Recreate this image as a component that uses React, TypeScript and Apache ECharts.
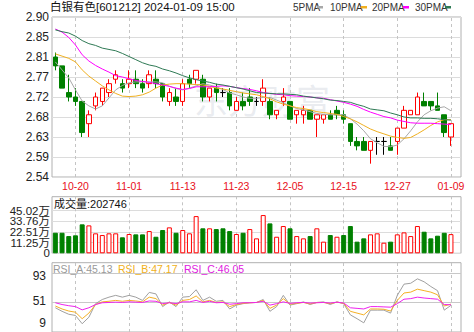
import React, { useEffect, useRef } from 'react';
import * as echarts from 'echarts';

const dates = [
  '10-17','10-18','10-19','10-20','10-23','10-24','10-25','10-26','10-27','10-30',
  '10-31','11-01','11-02','11-03','11-06','11-07','11-08','11-09','11-10','11-13',
  '11-14','11-15','11-16','11-17','11-20','11-21','11-22','11-23','11-24','11-27',
  '11-28','11-29','11-30','12-01','12-04','12-05','12-06','12-07','12-08','12-11',
  '12-12','12-13','12-14','12-15','12-18','12-19','12-20','12-21','12-22','12-25',
  '12-26','12-27','12-28','12-29','01-02','01-03','01-04','01-05','01-08','01-09'
];
const dateLabels = ['10-20','11-01','11-13','11-23','12-05','12-15','12-27','01-09'];

// [open, close, low, high]
const candles = [
  [2.81,2.79,2.78,2.82],[2.79,2.74,2.74,2.79],[2.73,2.72,2.71,2.77],[2.72,2.71,2.70,2.74],[2.71,2.64,2.63,2.71],
  [2.66,2.68,2.63,2.69],[2.70,2.72,2.69,2.73],[2.71,2.74,2.70,2.74],[2.73,2.75,2.72,2.76],[2.76,2.77,2.75,2.78],
  [2.75,2.74,2.73,2.76],[2.75,2.76,2.74,2.78],[2.76,2.75,2.74,2.78],[2.75,2.74,2.73,2.76],[2.75,2.77,2.74,2.78],
  [2.76,2.75,2.74,2.78],[2.75,2.72,2.71,2.75],[2.71,2.73,2.70,2.74],[2.72,2.71,2.70,2.74],[2.71,2.75,2.70,2.76],
  [2.76,2.75,2.74,2.77],[2.76,2.78,2.75,2.78],[2.76,2.72,2.71,2.77],[2.72,2.74,2.71,2.74],[2.74,2.73,2.71,2.75],
  [2.73,2.73,2.72,2.74],[2.73,2.70,2.69,2.74],[2.69,2.71,2.69,2.72],[2.71,2.70,2.69,2.73],[2.72,2.71,2.70,2.74],
  [2.71,2.71,2.70,2.72],[2.71,2.74,2.70,2.76],[2.71,2.68,2.67,2.72],[2.68,2.69,2.67,2.69],[2.71,2.72,2.70,2.74],
  [2.71,2.67,2.67,2.71],[2.68,2.69,2.66,2.69],[2.68,2.69,2.66,2.70],[2.69,2.67,2.67,2.69],[2.67,2.68,2.63,2.68],
  [2.67,2.68,2.66,2.68],[2.68,2.67,2.67,2.69],[2.69,2.68,2.67,2.70],[2.68,2.67,2.66,2.69],[2.66,2.62,2.61,2.66],
  [2.62,2.61,2.60,2.63],[2.62,2.60,2.60,2.63],[2.60,2.62,2.57,2.62],[2.62,2.62,2.59,2.63],[2.62,2.62,2.59,2.63],
  [2.61,2.60,2.60,2.63],[2.62,2.65,2.59,2.65],[2.65,2.69,2.65,2.70],[2.68,2.69,2.68,2.69],[2.68,2.72,2.68,2.73],
  [2.71,2.70,2.70,2.73],[2.71,2.70,2.69,2.71],[2.70,2.69,2.69,2.73],[2.68,2.64,2.63,2.68],[2.63,2.66,2.61,2.66]
];

const ma5 = [
  2.799,2.781,2.763,2.736,2.711,2.700,2.693,2.700,2.718,2.736,
  2.746,2.752,2.754,2.754,2.754,2.754,2.752,2.744,2.739,2.736,
  2.740,2.745,2.750,2.747,2.743,2.737,2.729,2.725,2.720,2.717,
  2.717,2.719,2.719,2.713,2.707,2.700,2.694,2.691,2.687,2.683,
  2.681,2.680,2.680,2.680,2.671,2.659,2.644,2.626,2.617,2.609,
  2.608,2.612,2.626,2.644,2.664,2.680,2.689,2.695,2.698,2.689
];
const ma10 = [
  2.817,2.812,2.807,2.799,2.781,2.767,2.756,2.745,2.736,2.728,
  2.722,2.721,2.722,2.725,2.731,2.740,2.747,2.749,2.750,2.750,
  2.749,2.748,2.747,2.744,2.740,2.738,2.735,2.732,2.729,2.727,
  2.725,2.721,2.716,2.709,2.704,2.700,2.696,2.694,2.691,2.687,
  2.685,2.683,2.681,2.676,2.671,2.664,2.656,2.648,2.642,2.637,
  2.632,2.629,2.627,2.629,2.637,2.646,2.656,2.664,2.669,2.669
];
const ma20 = [
  2.873,2.866,2.854,2.837,2.815,2.801,2.791,2.783,2.776,2.768,
  2.765,2.761,2.757,2.755,2.753,2.750,2.747,2.744,2.740,2.737,
  2.739,2.743,2.743,2.743,2.744,2.745,2.744,2.741,2.739,2.737,
  2.734,2.730,2.728,2.726,2.725,2.723,2.722,2.721,2.720,2.718,
  2.717,2.714,2.711,2.708,2.704,2.699,2.692,2.686,2.681,2.676,
  2.673,2.668,2.665,2.662,2.661,2.661,2.661,2.660,2.659,2.658
];
const ma30 = [
  2.871,2.867,2.864,2.857,2.847,2.840,2.836,2.830,2.827,2.824,
  2.818,2.811,2.804,2.797,2.792,2.789,2.783,2.779,2.774,2.768,
  2.763,2.759,2.756,2.753,2.749,2.747,2.744,2.741,2.738,2.734,
  2.730,2.729,2.728,2.727,2.727,2.726,2.725,2.722,2.720,2.718,
  2.716,2.713,2.712,2.710,2.708,2.703,2.699,2.693,2.691,2.689,
  2.684,2.680,2.675,2.673,2.673,2.672,2.672,2.671,2.669,2.668
];

const volumes = [
  217000,217000,182000,190000,306000,295000,211000,193000,211000,211000,
  169000,204000,200000,200000,235000,175000,246000,274000,217000,246000,
  211000,393000,264000,264000,256000,264000,235000,204000,217000,256000,
  158000,404000,316000,175000,288000,264000,182000,158000,182000,264000,
  123000,193000,175000,193000,288000,123000,158000,200000,211000,112000,
  123000,200000,221000,182000,288000,228000,158000,186000,217000,202746
];
// 1 = red hollow bar, -1 = green filled bar
const volDir = [
  -1,-1,-1,-1,-1,1,1,1,1,1,
  -1,1,-1,-1,1,-1,-1,1,-1,1,
  1,1,-1,1,-1,-1,-1,1,-1,1,
  1,1,-1,1,1,-1,1,1,-1,1,
  1,-1,1,-1,-1,-1,-1,1,1,1,
  -1,1,1,1,1,-1,-1,-1,-1,1
];

const rsiA = [
  41,35,30,28,14,25,48,55,59,62,
  59,62,59,53.5,67,64.5,43,51,43,59,
  60,71.5,53.5,59,52,53.5,39,45.5,48,49.5,
  50,55,35,43,62,45.5,48,51,46.5,50,
  51,46.5,51,48,29,22.5,15.5,37,37,37,
  32,62,81,82.5,90,85,77,70,37,45.13
];
const rsiB = [
  44,39,35.5,33.5,22.5,32,46.5,51,52,53.5,
  52,53.5,52.5,51,59,56.5,45.5,50,45.5,53.5,
  55,61,51,53.5,50,51,43,46.5,48.5,49.5,
  50,53.5,40,45.5,56.5,47,48.5,50,47.5,50,
  50,48,50.5,48.5,35,32,29,39,39,38.5,
  35.5,53.5,66,67.5,72.5,70,67.5,63,44,47.17
];
const rsiC = [
  49.5,46.5,44.5,43,37.5,41,46.5,49.5,50,50.5,
  50,51,50.5,50,52.5,52,48,49.5,48,51,
  51,53.5,50,52,49.5,50,47,48,49.5,49.5,
  50,52,45.5,48,51,48.5,49.5,50,49,49.5,
  50,49,50.5,49,41,40,39,43,43,42.5,
  42,48,55.5,56.5,59,57.5,56.5,55.5,46.5,46.05
];

const priceTicks = [2.54, 2.585, 2.63, 2.675, 2.72, 2.765, 2.81, 2.855, 2.9];
const priceTickLabels = ['2.54','2.59','2.63','2.68','2.72','2.77','2.81','2.85','2.90'];
const volTicks = [0, 112550, 225100, 337650, 450200];
const volTickLabels = ['0','11.25万','22.51万','33.76万','45.02万'];
const rsiTicks = [9, 51, 93];
const rsiLines = [51, 100];

const SANS = '"Liberation Sans", "Noto Sans CJK SC", sans-serif';
const RED = '#ff0000';
const GREEN = '#008000';
const C_MA5 = '#a8a8a8';
const C_MA10 = '#f0b020';
const C_MA20 = '#ff00ff';
const C_MA30 = '#2f7a55';
const VOL_MAX = 598000;

function lookupIdx(ticks: number[], v: number) {
  let best = -1, bd = Infinity;
  ticks.forEach((t, i) => { const d = Math.abs(t - v); if (d < bd) { bd = d; best = i; } });
  return bd < 1e-6 * Math.max(1, Math.abs(v)) + 1e-6 ? best : -1;
}

export default function App() {
  const ref = useRef<HTMLDivElement>(null);
  useEffect(() => {
    if (!ref.current) return;
    const chart = echarts.init(ref.current, undefined, { renderer: 'svg' });
    const cats = [...dates, ''];
    const vline = {
      silent: true,
      symbol: 'none',
      z: 1,
      label: { show: false },
      emphasis: { disabled: true },
      lineStyle: { color: '#c4c4c4', width: 1, type: [3, 3] },
      data: dateLabels.map((d) => ({ xAxis: d })),
    };
    const gridBase = { left: 52, width: 409, show: true, borderColor: '#b0b0b0', borderWidth: 1 };
    const xBase = (i: number) => ({
      type: 'category', gridIndex: i, data: cats, boundaryGap: true,
      axisLine: { show: false }, axisTick: { show: false },
      splitLine: { show: false },
      axisLabel: i === 0 ? {
        show: true, interval: (_idx: number, v: string) => dateLabels.includes(v),
        color: '#e8101a', fontSize: 10.5, fontFamily: SANS, margin: 4,
      } : { show: false },
    });
    const volLabelAxis = (vals: number[], pad: number) => ({
      type: 'value', gridIndex: 1, min: 0, max: VOL_MAX, position: 'left',
      axisLine: { show: false },
      axisTick: { show: false, customValues: vals },
      splitLine: { show: false },
      axisLabel: {
        customValues: vals, showMinLabel: true, showMaxLabel: true, hideOverlap: false,
        formatter: (v: number) => { const i = lookupIdx(volTicks, v); return i >= 0 ? volTickLabels[i] : ''; },
        color: '#222', fontSize: 11.5, fontFamily: SANS, margin: 2, padding: [0, 0, pad, 0],
      },
    });
    const last = rsiA.length - 1;
    const option: any = {
      animation: false,
      backgroundColor: '#ffffff',
      grid: [
        { ...gridBase, top: 17, height: 160 },
        { ...gridBase, top: 196.7, height: 56.6 },
        { ...gridBase, top: 262.7, height: 71.8 },
      ],
      xAxis: [xBase(0), xBase(1), xBase(2)],
      yAxis: [
        {
          type: 'value', gridIndex: 0, min: 2.54, max: 2.9,
          axisLine: { show: false },
          axisTick: { show: false, customValues: priceTicks },
          axisLabel: {
            customValues: priceTicks, showMinLabel: true, showMaxLabel: true, hideOverlap: false,
            formatter: (v: number) => { const i = lookupIdx(priceTicks, v); return i >= 0 ? priceTickLabels[i] : ''; },
            color: '#222', fontSize: 12, fontFamily: SANS, margin: 3,
          },
          splitLine: { show: true, lineStyle: { color: '#dcdcdc', width: 1 } },
        },
        {
          type: 'value', gridIndex: 1, min: 0, max: VOL_MAX,
          axisLine: { show: false },
          axisTick: { show: false, customValues: volTicks },
          axisLabel: { show: false },
          splitLine: { show: true, lineStyle: { color: '#dcdcdc', width: 1 } },
        },
        {
          type: 'value', gridIndex: 2, min: 0, max: 117.3,
          axisLine: { show: false },
          axisTick: { show: false, customValues: rsiLines },
          axisLabel: {
            customValues: rsiTicks, showMinLabel: true, showMaxLabel: true, hideOverlap: false,
            formatter: (v: number) => (v === rsiTicks[0] ? '{b|' + v + '}' : '{n|' + v + '}'),
            rich: {
              b: { fontSize: 12, fontFamily: SANS, color: '#222', padding: [0, 0, 7, 0] },
              n: { fontSize: 12, fontFamily: SANS, color: '#222', padding: [0, 0, 2, 0] },
            },
            color: '#222', fontSize: 12, fontFamily: SANS, margin: 6,
          },
          splitLine: { show: true, lineStyle: { color: '#c8c8c8', width: 1 } },
        },
        volLabelAxis([volTicks[0], volTicks[2]], 3),
        volLabelAxis([volTicks[1], volTicks[3]], 2),
        volLabelAxis([volTicks[4]], 9),
      ],
      series: [
        {
          name: 'K', type: 'candlestick', xAxisIndex: 0, yAxisIndex: 0, data: candles, barWidth: 5, z: 2,
          itemStyle: { color: '#ffffff', color0: GREEN, borderColor: RED, borderColor0: GREEN, borderColorDoji: '#000000', borderWidth: 1 },
          markLine: vline,
        },
        { name: '5PMA', type: 'line', xAxisIndex: 0, yAxisIndex: 0, data: ma5, showSymbol: false, z: 4, lineStyle: { color: C_MA5, width: 1 } },
        { name: '10PMA', type: 'line', xAxisIndex: 0, yAxisIndex: 0, data: ma10, showSymbol: false, z: 4, lineStyle: { color: C_MA10, width: 1 } },
        { name: '20PMA', type: 'line', xAxisIndex: 0, yAxisIndex: 0, data: ma20, showSymbol: false, z: 4, lineStyle: { color: C_MA20, width: 1 } },
        { name: '30PMA', type: 'line', xAxisIndex: 0, yAxisIndex: 0, data: ma30, showSymbol: false, z: 4, lineStyle: { color: C_MA30, width: 1 } },
        {
          name: 'VOL', type: 'bar', xAxisIndex: 1, yAxisIndex: 1, barWidth: 5, z: 2,
          data: volumes.map((v, i) => ({
            value: v,
            itemStyle: volDir[i] > 0
              ? { color: '#ffffff', borderColor: RED, borderWidth: 1 }
              : { color: GREEN, borderColor: GREEN, borderWidth: 1 },
          })),
          markLine: vline,
        },
        { name: 'RSI_A', type: 'line', xAxisIndex: 2, yAxisIndex: 2, data: rsiA, showSymbol: false, z: 3, lineStyle: { color: '#a0a0a0', width: 1 }, markLine: vline },
        { name: 'RSI_B', type: 'line', xAxisIndex: 2, yAxisIndex: 2, data: rsiB, showSymbol: false, z: 3, lineStyle: { color: '#f5b025', width: 1 } },
        { name: 'RSI_C', type: 'line', xAxisIndex: 2, yAxisIndex: 2, data: rsiC, showSymbol: false, z: 3, lineStyle: { color: '#ee22ee', width: 1 } },
      ],
      graphic: [
        { type: 'text', left: 50, top: 1, style: { text: '白银有色[601212] 2024-01-09 15:00', fontSize: 11.5, fontFamily: SANS, fill: '#111' } },
        { type: 'text', x: 293, y: 7, style: { text: '5PMA', fontSize: 10, fontFamily: SANS, fill: '#333', verticalAlign: 'middle' } },
        { type: 'rect', shape: { x: 317, y: 6, width: 6, height: 2.5 }, style: { fill: C_MA5 } },
        { type: 'text', x: 330, y: 7, style: { text: '10PMA', fontSize: 10, fontFamily: SANS, fill: '#333', verticalAlign: 'middle' } },
        { type: 'rect', shape: { x: 361, y: 6, width: 6, height: 2.5 }, style: { fill: C_MA10 } },
        { type: 'text', x: 372, y: 7, style: { text: '20PMA', fontSize: 10, fontFamily: SANS, fill: '#333', verticalAlign: 'middle' } },
        { type: 'rect', shape: { x: 403, y: 6, width: 6, height: 2.5 }, style: { fill: C_MA20 } },
        { type: 'text', x: 415, y: 7, style: { text: '30PMA', fontSize: 10, fontFamily: SANS, fill: '#333', verticalAlign: 'middle' } },
        { type: 'rect', shape: { x: 445, y: 6, width: 6, height: 2.5 }, style: { fill: C_MA30 } },
        { type: 'text', x: 54, y: 204, style: { text: '成交量:' + volumes[volumes.length - 1], fontSize: 11, fontFamily: SANS, fill: '#111', verticalAlign: 'middle' } },
        { type: 'text', x: 53, y: 268.5, style: { text: 'RSI_A:' + rsiA[last].toFixed(2), fontSize: 10.5, fontFamily: SANS, fill: '#999', verticalAlign: 'middle' } },
        { type: 'text', x: 118, y: 268.5, style: { text: 'RSI_B:' + rsiB[last].toFixed(2), fontSize: 10.5, fontFamily: SANS, fill: '#f0b020', verticalAlign: 'middle' } },
        { type: 'text', x: 184, y: 268.5, style: { text: 'RSI_C:' + rsiC[last].toFixed(2), fontSize: 10.5, fontFamily: SANS, fill: '#e020e0', verticalAlign: 'middle' } },
        { type: 'text', x: 262, y: 102, z: -1, style: { text: '东方财富', fontSize: 34, fontFamily: SANS, fill: 'rgba(200,205,215,0.4)', align: 'center', verticalAlign: 'middle' } },
      ],
    };
    chart.setOption(option);
    return () => chart.dispose();
  }, []);
  return <div ref={ref} style={{ position: 'fixed', left: 0, top: 0, width: 474, height: 332 }} />;
}
